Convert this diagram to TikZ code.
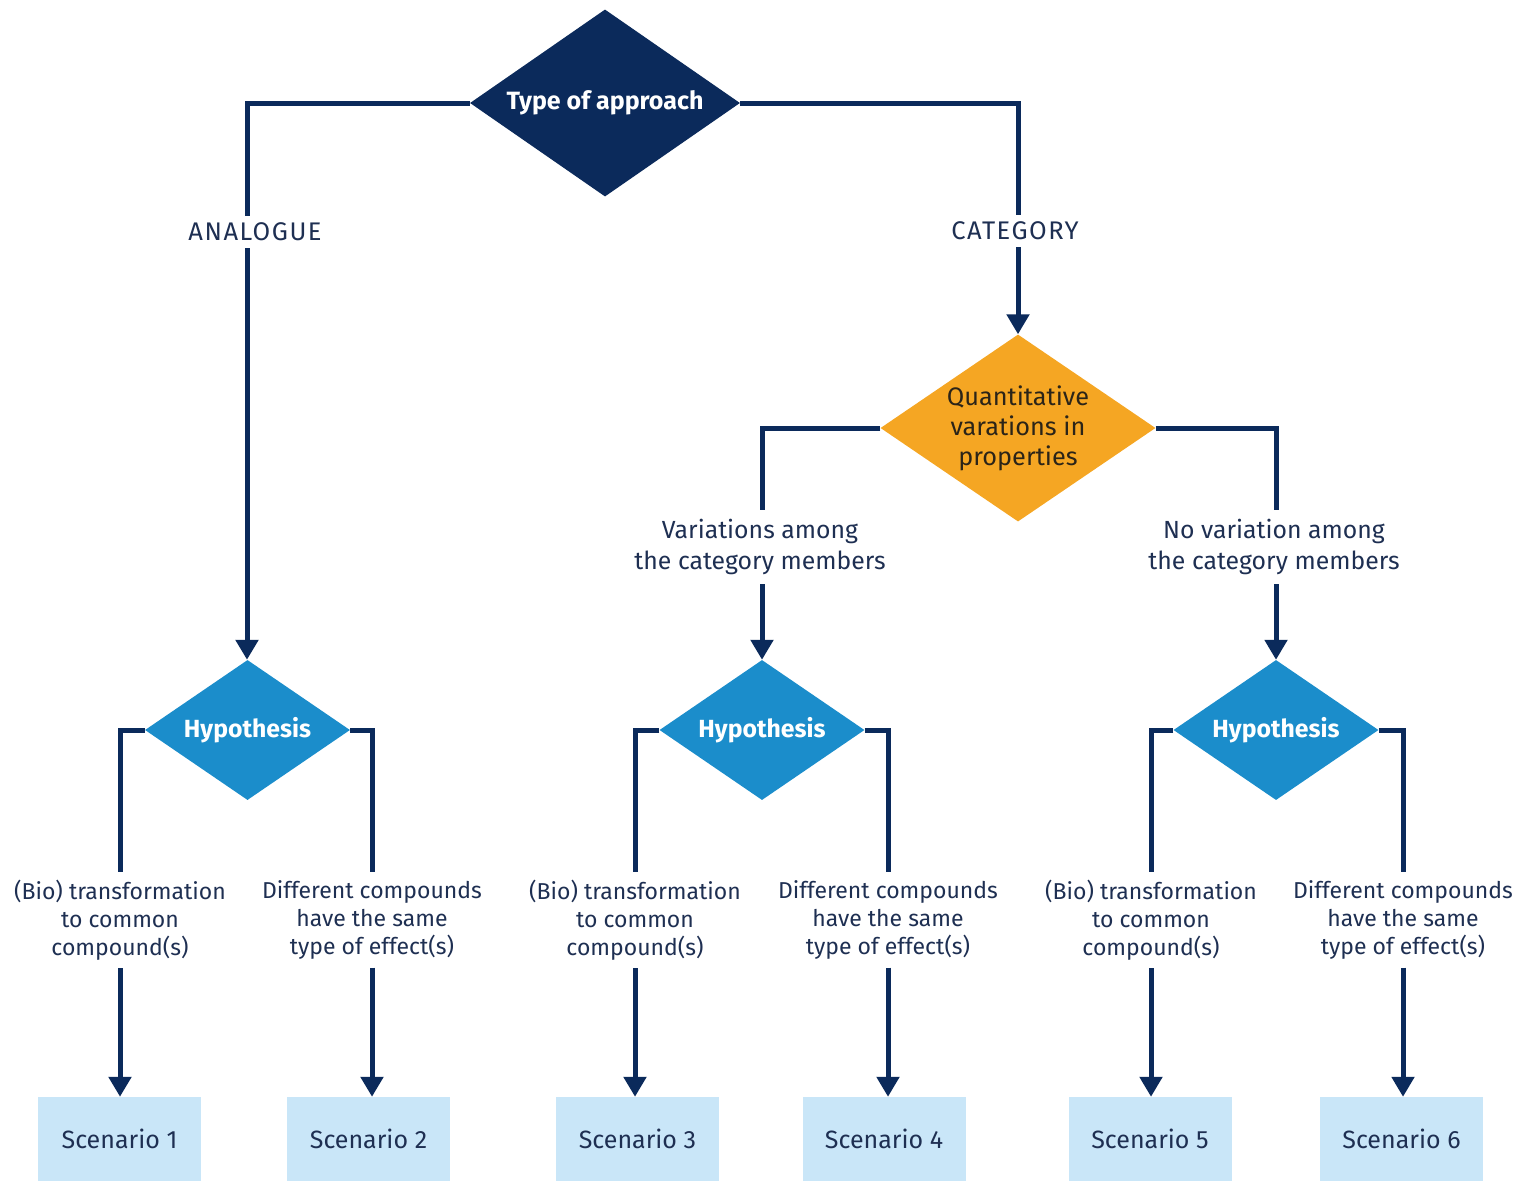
\documentclass[tikz,border=0pt]{standalone}
\usepackage{fontspec}
\setmainfont{Fira Sans}
\usetikzlibrary{shapes.geometric,arrows.meta}
\definecolor{navy}{HTML}{0B2A5B}
\definecolor{ink}{HTML}{1E2F52}
\definecolor{amber}{HTML}{F5A623}
\definecolor{hypblue}{HTML}{1B8DCB}
\definecolor{boxblue}{HTML}{C9E6F8}
\definecolor{darktext}{HTML}{2B2418}
\begin{document}
\begin{tikzpicture}[x=1pt,y=-1pt,
  conn/.style={draw=navy,line width=5pt},
  arr/.style={conn,-{Triangle[width=22pt,length=20pt]}},
  decision/.style={diamond,inner sep=0pt,aspect=1.45},
  hyp/.style={decision,fill=hypblue,minimum width=205pt,minimum height=140pt,text=white,font=\bfseries\fontsize{24.8}{28}\selectfont},
  lbl/.style={text=ink,align=center,font=\fontsize{23}{28}\selectfont,inner sep=8pt},
  branch/.style={text=ink,align=center,font=\fontsize{24.8}{31}\selectfont,inner sep=9pt},
  caps/.style={branch,inner sep=7pt,font=\fontsize{25.5}{31}\selectfont\addfontfeature{LetterSpace=6.0}},
  scen/.style={fill=boxblue,minimum width=163pt,minimum height=84pt,inner sep=0pt,text=ink,font=\fontsize{25}{28}\selectfont}]
\useasboundingbox (0,0) rectangle (1522,1181);

% decisions
\node[decision,fill=navy,minimum width=270pt,minimum height=187pt,text=white,
      font=\bfseries\fontsize{25}{28}\selectfont] (top) at (605,103) {Type of approach};
\node[decision,fill=amber,minimum width=275pt,minimum height=187pt,text=darktext,align=center,
      font=\fontsize{25.3}{30}\selectfont] (quant) at (1018,428) {Quantitative\\varations in\\properties};
\node[hyp] (hypA) at (247.5,730) {Hypothesis};
\node[hyp] (hypB) at (762,730) {Hypothesis};
\node[hyp] (hypC) at (1276,730) {Hypothesis};

% branch labels
\node[caps] (analogue) at (255,232) {ANALOGUE};
\node[caps] (category) at (1015,231) {CATEGORY};
\node[branch] (varies) at (760,547) {Variations among\\the category members};
\node[branch] (novary) at (1274,547) {No variation among\\the category members};

% hypothesis labels
\foreach \n/\x in {A/120,C/635,E/1151}
  \node[lbl] (bio\n) at (\x,920) {(Bio) transformation\\to common\\compound(s)};
\foreach \n/\x in {B/372,D/888,F/1403}
  \node[lbl] (dif\n) at (\x,920) {Different compounds\\have the same\\type of effect(s)};

% scenarios
\node[scen] (s1) at (119.5,1139) {Scenario 1};
\node[scen] (s2) at (368.5,1139) {Scenario 2};
\node[scen] (s3) at (637.5,1139) {Scenario 3};
\node[scen] (s4) at (884,1139) {Scenario 4};
\node[scen] (s5) at (1150,1139) {Scenario 5};
\node[scen] (s6) at (1401.5,1139) {Scenario 6};

% connectors from the top
\draw[conn] (top.west) -| ([xshift=-8pt]analogue.north);
\draw[arr] ([xshift=-8pt]analogue.south) -- ([xshift=-8pt]analogue.south |- hypA.north);
\draw[conn] (top.east) -| ([xshift=3pt]category.north);
\draw[arr] ([xshift=3pt]category.south) -- ([xshift=3pt]category.south |- quant.north);

\draw[conn] (quant.west) -| ([xshift=2pt]varies.north);
\draw[arr] ([xshift=2pt]varies.south) -- ([xshift=2pt]varies.south |- hypB.north);
\draw[conn] (quant.east) -| ([xshift=2pt]novary.north);
\draw[arr] ([xshift=2pt]novary.south) -- ([xshift=2pt]novary.south |- hypC.north);

% connectors from the hypotheses
\draw[conn] (hypA.west) -| (bioA.north);
\draw[conn] (hypA.east) -| (difB.north);
\draw[conn] (hypB.west) -| (bioC.north);
\draw[conn] (hypB.east) -| (difD.north);
\draw[conn] (hypC.west) -| (bioE.north);
\draw[conn] (hypC.east) -| (difF.north);

\draw[arr] (bioA.south) -- (bioA.south |- s1.north);
\draw[arr] (difB.south) -- (difB.south |- s2.north);
\draw[arr] (bioC.south) -- (bioC.south |- s3.north);
\draw[arr] (difD.south) -- (difD.south |- s4.north);
\draw[arr] (bioE.south) -- (bioE.south |- s5.north);
\draw[arr] (difF.south) -- (difF.south |- s6.north);
\end{tikzpicture}
\end{document}
